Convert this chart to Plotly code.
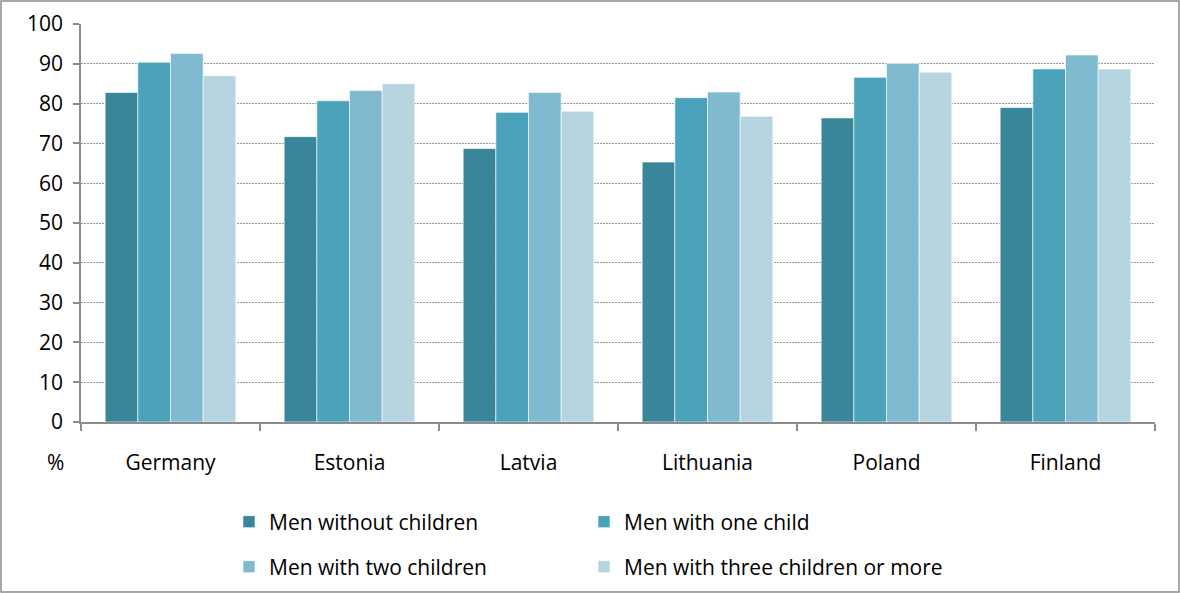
import plotly.graph_objects as go

countries = ["Germany", "Estonia", "Latvia", "Lithuania", "Poland", "Finland"]
series_names = [
    "Men without children",
    "Men with one child",
    "Men with two children",
    "Men with three children or more",
]
no_children = [82.8, 71.7, 68.7, 65.3, 76.4, 79.0]
one_child = [90.4, 80.7, 77.8, 81.5, 86.6, 88.7]
two_children = [92.6, 83.3, 82.8, 82.9, 90.1, 92.2]
three_plus = [87.0, 85.0, 78.1, 76.8, 87.9, 88.7]
y_ticks = list(range(0, 101, 10))

colors = ["#39869A", "#4AA2BB", "#7FBAD0", "#B7D5E0"]
values = [no_children, one_child, two_children, three_plus]

W, H = 1180, 593
ML, MR, MT, MB = 81, 25, 24, 171
PW, PH = W - ML - MR, H - MT - MB

FONT = "Open Sans"
FS = 21


def px_x(p):
    return (p - ML) / PW


def px_y(p):
    return (H - MB - p) / PH


# one legend box per entry, laid out as a 2x2 grid below the axis
legend_pos = [(229, 522), (584, 522), (229, 567), (584, 567)]
legend_ids = ["legend", "legend2", "legend3", "legend4"]

fig = go.Figure()
for name, vals, col, lg in zip(series_names, values, colors, legend_ids):
    fig.add_trace(go.Bar(
        x=countries, y=vals, name=name,
        marker=dict(color=col, line=dict(color="rgba(255,255,255,0.6)", width=1)),
        legend=lg,
    ))

legend_layout = {}
for lg, (lx, ly) in zip(legend_ids, legend_pos):
    legend_layout[lg] = dict(
        x=px_x(lx), y=px_y(ly), xanchor="left", yanchor="middle",
        orientation="h", itemwidth=30,
        font=dict(family=FONT, size=FS, color="#000000"),
        bgcolor="rgba(0,0,0,0)",
    )

fig.update_layout(
    width=W, height=H,
    margin=dict(l=ML, r=MR, t=MT, b=MB, autoexpand=False),
    paper_bgcolor="white", plot_bgcolor="white",
    barmode="group", bargap=0.27, bargroupgap=0,
    font=dict(family=FONT, size=FS, color="#000000"),
    showlegend=True,
    xaxis=dict(
        type="category", showline=True, linecolor="#8C8C8C", linewidth=1.5,
        ticks="outside", tickson="boundaries", ticklen=7, tickcolor="#8C8C8C",
        tickwidth=1.5, tickfont=dict(family=FONT, size=FS), showgrid=False,
        ticklabelstandoff=21, automargin=False,
    ),
    yaxis=dict(
        range=[0, 100], tickvals=y_ticks, showline=True, linecolor="#8C8C8C",
        linewidth=1.5, ticks="outside", ticklen=6, tickcolor="#8C8C8C", tickwidth=1.5,
        showgrid=True, gridcolor="#9A9A9A", griddash="2px,1px", gridwidth=1,
        tickfont=dict(family=FONT, size=FS), zeroline=False,
        ticklabelstandoff=6, automargin=False,
    ),
    annotations=[dict(
        text="%", xref="paper", yref="paper", x=px_x(55), y=px_y(462),
        xanchor="center", yanchor="middle", showarrow=False,
        font=dict(family=FONT, size=FS),
    )],
    shapes=[dict(
        type="rect", xref="paper", yref="paper",
        x0=px_x(1), x1=px_x(1179), y0=px_y(592), y1=px_y(1),
        line=dict(color="#8C8C8C", width=1.5), layer="below",
    )],
    **legend_layout,
)

fig.write_html("out.html")
